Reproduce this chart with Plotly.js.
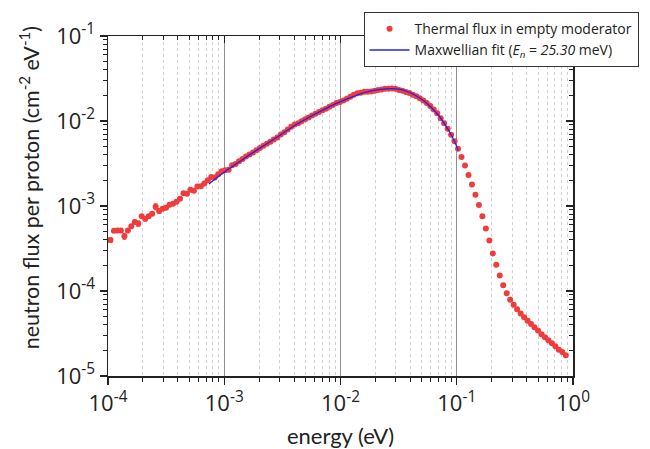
<!DOCTYPE html>
<html>
<head>
<meta charset="utf-8">
<script src="https://cdn.plot.ly/plotly-3.0.1.min.js"></script>
<style>html,body{margin:0;padding:0;background:#fff;}#chart{width:650px;height:449px;}</style>
</head>
<body>
<div id="chart"></div>
<script>
// Measured thermal flux (eV, cm^-2 eV^-1 per proton)
const energy = [
1.050e-4,1.125e-4,1.205e-4,1.291e-4,1.384e-4,1.482e-4,1.587e-4,1.700e-4,1.822e-4,1.951e-4,
2.090e-4,2.239e-4,2.399e-4,2.570e-4,2.754e-4,2.951e-4,3.160e-4,3.385e-4,3.626e-4,3.885e-4,
4.162e-4,4.459e-4,4.775e-4,5.117e-4,5.481e-4,5.872e-4,6.290e-4,6.738e-4,7.219e-4,7.734e-4,
8.285e-4,8.876e-4,9.506e-4,1.018e-3,1.091e-3,1.169e-3,1.252e-3,1.341e-3,1.437e-3,1.539e-3,
1.649e-3,1.767e-3,1.892e-3,2.027e-3,2.172e-3,2.327e-3,2.492e-3,2.670e-3,2.860e-3,3.064e-3,
3.282e-3,3.516e-3,3.767e-3,4.035e-3,4.323e-3,4.631e-3,4.961e-3,5.315e-3,5.694e-3,6.100e-3,
6.535e-3,7.001e-3,7.499e-3,8.034e-3,8.607e-3,9.221e-3,9.876e-3,1.058e-2,1.133e-2,1.214e-2,
1.301e-2,1.394e-2,1.493e-2,1.600e-2,1.713e-2,1.836e-2,1.967e-2,2.107e-2,2.257e-2,2.418e-2,
2.590e-2,2.774e-2,2.972e-2,3.184e-2,3.411e-2,3.654e-2,3.914e-2,4.193e-2,4.492e-2,4.812e-2,
5.155e-2,5.523e-2,5.916e-2,6.338e-2,6.790e-2,7.273e-2,7.792e-2,8.347e-2,8.942e-2,9.579e-2,
0.1026,0.1099,0.1178,0.1262,0.1352,0.1448,0.1551,0.1662,0.1780,0.1907,
0.2043,0.2188,0.2344,0.2511,0.2690,0.2882,0.3087,0.3307,0.3543,0.3796,
0.4066,0.4356,0.4667,0.4999,0.5356,0.5738,0.6146,0.6585,0.7054,0.7557,
0.8096,0.8673];
const flux = [
3.97e-4,5.10e-4,5.14e-4,5.14e-4,4.42e-4,5.14e-4,5.79e-4,6.50e-4,6.21e-4,7.58e-4,
7.10e-4,7.58e-4,8.13e-4,9.81e-4,8.74e-4,9.30e-4,9.55e-4,1.036e-3,1.064e-3,1.123e-3,
1.218e-3,1.408e-3,1.393e-3,1.551e-3,1.510e-3,1.699e-3,1.713e-3,1.843e-3,2.014e-3,2.201e-3,
2.166e-3,2.367e-3,2.566e-3,2.636e-3,2.672e-3,3.017e-3,3.125e-3,3.359e-3,3.575e-3,3.814e-3,
4.025e-3,4.247e-3,4.519e-3,4.807e-3,5.128e-3,5.411e-3,5.711e-3,6.076e-3,6.412e-3,6.953e-3,
7.396e-3,7.955e-3,8.554e-3,9.101e-3,9.426e-3,9.947e-3,1.050e-2,1.099e-2,1.160e-2,1.214e-2,
1.275e-2,1.338e-2,1.393e-2,1.470e-2,1.543e-2,1.624e-2,1.677e-2,1.737e-2,1.833e-2,1.934e-2,
2.041e-2,2.114e-2,2.154e-2,2.213e-2,2.213e-2,2.231e-2,2.273e-2,2.317e-2,2.354e-2,2.399e-2,
2.399e-2,2.419e-2,2.399e-2,2.317e-2,2.273e-2,2.195e-2,2.137e-2,2.041e-2,1.950e-2,1.848e-2,
1.737e-2,1.633e-2,1.506e-2,1.363e-2,1.234e-2,1.078e-2,9.43e-3,8.10e-3,6.90e-3,5.76e-3,
4.70e-3,3.77e-3,2.99e-3,2.32e-3,1.79e-3,1.36e-3,1.03e-3,7.58e-4,5.43e-4,3.93e-4,
2.77e-4,2.03e-4,1.52e-4,1.17e-4,9.43e-5,7.89e-5,6.90e-5,6.08e-5,5.45e-5,4.90e-5,
4.48e-5,4.09e-5,3.74e-5,3.42e-5,3.10e-5,2.86e-5,2.64e-5,2.43e-5,2.24e-5,2.03e-5,
1.92e-5,1.76e-5];
// relative statistical errors of the low-energy points
const fluxRelErr = [0.06,0.03,0.03,0.03,0.08,0.03,0.04,0.05,0.07,0.04,
0.06,0.04,0.04,0.08,0.06,0.04,0.04,0.03,0.03,0.03];

// Maxwellian fit curve (E_n = 25.30 meV)
const fitEnergy = [7.4e-4,8.5e-4,1.0e-3,1.3e-3,1.7e-3,2.2e-3,3.0e-3,4.0e-3,5.0e-3,6.5e-3,
8.5e-3,1.1e-2,1.4e-2,1.8e-2,2.2e-2,2.7e-2,3.2e-2,3.8e-2,4.5e-2,5.2e-2,
6.0e-2,7.0e-2,8.0e-2,9.0e-2,0.1,0.103];
const fitFlux = [1.82e-3,2.12e-3,2.50e-3,3.20e-3,4.10e-3,5.15e-3,6.75e-3,8.8e-3,1.05e-2,1.27e-2,
1.53e-2,1.78e-2,2.03e-2,2.24e-2,2.35e-2,2.41e-2,2.37e-2,2.21e-2,1.97e-2,1.73e-2,
1.45e-2,1.16e-2,8.9e-3,6.8e-3,5.0e-3,4.5e-3];

const seriesNames = ['Thermal flux in empty moderator',
  'Maxwellian fit (<i>E<sub>n</sub></i> = <i>25.30</i> meV)'];
const xTickVals = [1e-4, 1e-3, 1e-2, 1e-1, 1];
const xTickText = ['10<sup>-4</sup>','10<sup>-3</sup>','10<sup>-2</sup>','10<sup>-1</sup>','10<sup>0</sup>'];
const yTickVals = [1e-5, 1e-4, 1e-3, 1e-2, 1e-1];
const yTickText = ['10<sup>-5</sup>','10<sup>-4</sup>','10<sup>-3</sup>','10<sup>-2</sup>','10<sup>-1</sup>'];
const xTitle = 'energy (eV)';
const yTitle = 'neutron flux per proton (cm<sup>-2</sup> eV<sup>-1</sup>)';

const errArr = flux.map((v,i)=> i < fluxRelErr.length ? v*fluxRelErr[i] : 0);

const FONT = 'Open Sans, Noto Sans, sans-serif';
const TFONT = 'Lato, Open Sans, sans-serif';
const ink = '#222';

const traces = [
  {x: energy, y: flux, type:'scatter', mode:'markers', name: seriesNames[0],
   marker:{color:'#f03c3c', size:6},
   error_y:{type:'data', array: errArr, visible:true, color:'#f03c3c', thickness:1, width:2}},
  {x: fitEnergy, y: fitFlux, type:'scatter', mode:'lines', name: seriesNames[1],
   line:{color:'#2323f0', width:1.3, shape:'spline', smoothing:0.6}},
  {x: [], y: [], xaxis:'x2', yaxis:'y2', type:'scatter', mode:'markers', showlegend:false, hoverinfo:'skip'}
];

const baseAx = {
  type:'log', showline:true, linecolor:ink, linewidth:1.5, zeroline:false,
  tickcolor:ink, tickwidth:1.2, ticklen:7,
  tickfont:{family:FONT, size:22, color:ink}
};

const layout = {
  width:650, height:449,
  margin:{l:108, r:75, t:34, b:73},
  paper_bgcolor:'#fff', plot_bgcolor:'#fff',
  font:{family:FONT, color:ink},
  showlegend:true,
  xaxis: Object.assign({}, baseAx, {
    range:[-4,0], ticks:'outside', tickmode:'array', tickvals:xTickVals, ticktext:xTickText,
    showgrid:true, gridcolor:'#909090', gridwidth:1,
    minor:{dtick:'D1', ticks:'outside', ticklen:4, tickcolor:ink, tickwidth:1,
           showgrid:true, gridcolor:'#d0d0d0', griddash:'dot', gridwidth:1},
    title:{text:xTitle, font:{family:TFONT, size:22, color:ink}, standoff:12}
  }),
  yaxis: Object.assign({}, baseAx, {
    range:[-5,-1], ticks:'outside', tickmode:'array', tickvals:yTickVals, ticktext:yTickText,
    showgrid:false,
    minor:{dtick:'D1', ticks:'outside', ticklen:4, tickcolor:ink, tickwidth:1, showgrid:false}
  }),
  xaxis2: Object.assign({}, baseAx, {
    range:[-4,0], overlaying:'x', side:'top', anchor:'y', ticks:'inside', dtick:1,
    showticklabels:false, showgrid:false,
    minor:{dtick:'D1', ticks:'inside', ticklen:4, tickcolor:ink, tickwidth:1, showgrid:false}
  }),
  yaxis2: Object.assign({}, baseAx, {
    range:[-5,-1], overlaying:'y', side:'right', anchor:'x', ticks:'inside', dtick:1,
    showticklabels:false, showgrid:false,
    minor:{dtick:'D1', ticks:'inside', ticklen:4, tickcolor:ink, tickwidth:1, showgrid:false}
  }),
  annotations:[{
    text:yTitle, textangle:-90, xref:'paper', yref:'paper',
    x:-0.167, y:0.553, xanchor:'center', yanchor:'middle', showarrow:false,
    font:{family:TFONT, size:21.5, color:ink}
  }],
  legend:{x:1.141, xanchor:'right', y:1.07, yanchor:'top',
    bgcolor:'#fff', bordercolor:'#333', borderwidth:1,
    font:{family:FONT, size:14, color:ink}, itemwidth:40, tracegroupgap:0}
};

Plotly.newPlot('chart', traces, layout, {displayModeBar:false, staticPlot:true});
</script>
</body>
</html>
